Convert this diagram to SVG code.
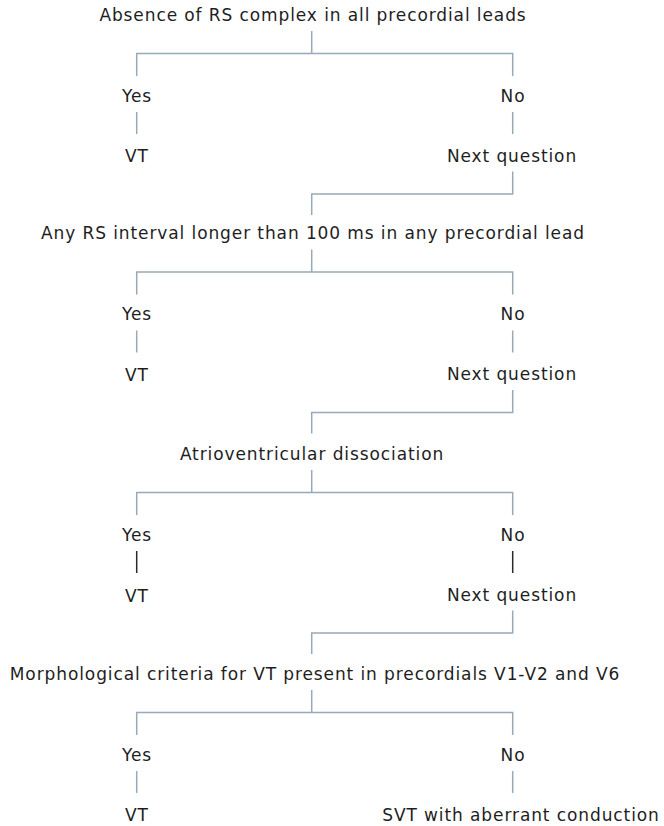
<svg xmlns="http://www.w3.org/2000/svg" width="664" height="826" viewBox="0 0 664 826">
<style>
text{font-family:"DejaVu Sans","Liberation Sans",sans-serif;font-size:17px;letter-spacing:0.9px;fill:#1e1e1e;text-anchor:middle}
.c{fill:none;stroke:#98a9b7;stroke-width:1.5}
.d{fill:none;stroke:#2a2a2a;stroke-width:1.5}
</style>
<rect width="664" height="826" fill="#ffffff"/>
<g id="connectors">
<path class="c" d="M311.7,31 V53.5 M136.7,76 V53.5 H512.7 V76 M136.7,112 V134 M512.7,112 V134 M512.7,171.5 V194 H311.7 V215"/>
<path class="c" d="M311.7,249.5 V272 M136.7,294.5 V272 H512.7 V294.5 M136.7,330.5 V352.5 M512.7,330.5 V352.5 M512.7,390 V412.5 H311.7 V433.5"/>
<path class="c" d="M311.7,470 V492.5 M136.7,515 V492.5 H512.7 V515"/>
<path class="d" d="M136.7,551 V573 M512.7,551 V573"/>
<path class="c" d="M512.7,610.5 V633 H311.7 V654"/>
<path class="c" d="M311.7,690 V712.5 M136.7,735 V712.5 H512.7 V735 M136.7,771 V793 M512.7,771 V793"/>
</g>
<g id="q1"><text x="313" y="20.5">Absence of RS complex in all precordial leads</text></g>
<g id="yes1"><text x="137" y="101.5">Yes</text></g>
<g id="no1"><text x="513" y="101.5">No</text></g>
<g id="vt1"><text x="137" y="162">VT</text></g>
<g id="next1"><text x="512" y="161.5">Next question</text></g>
<g id="q2"><text x="313" y="238.5">Any RS interval longer than 100 ms in any precordial lead</text></g>
<g id="yes2"><text x="137" y="320">Yes</text></g>
<g id="no2"><text x="513" y="320">No</text></g>
<g id="vt2"><text x="137" y="381">VT</text></g>
<g id="next2"><text x="512" y="380">Next question</text></g>
<g id="q3"><text x="312" y="459.5">Atrioventricular dissociation</text></g>
<g id="yes3"><text x="137" y="540.5">Yes</text></g>
<g id="no3"><text x="513" y="540.5">No</text></g>
<g id="vt3"><text x="137" y="601.5">VT</text></g>
<g id="next3"><text x="512" y="600.5">Next question</text></g>
<g id="q4"><text x="315" y="680">Morphological criteria for VT present in precordials V1-V2 and V6</text></g>
<g id="yes4"><text x="137" y="760.5">Yes</text></g>
<g id="no4"><text x="513" y="760.5">No</text></g>
<g id="vt4"><text x="137" y="820.5">VT</text></g>
<g id="svt"><text x="521" y="820.5">SVT with aberrant conduction</text></g>
</svg>
